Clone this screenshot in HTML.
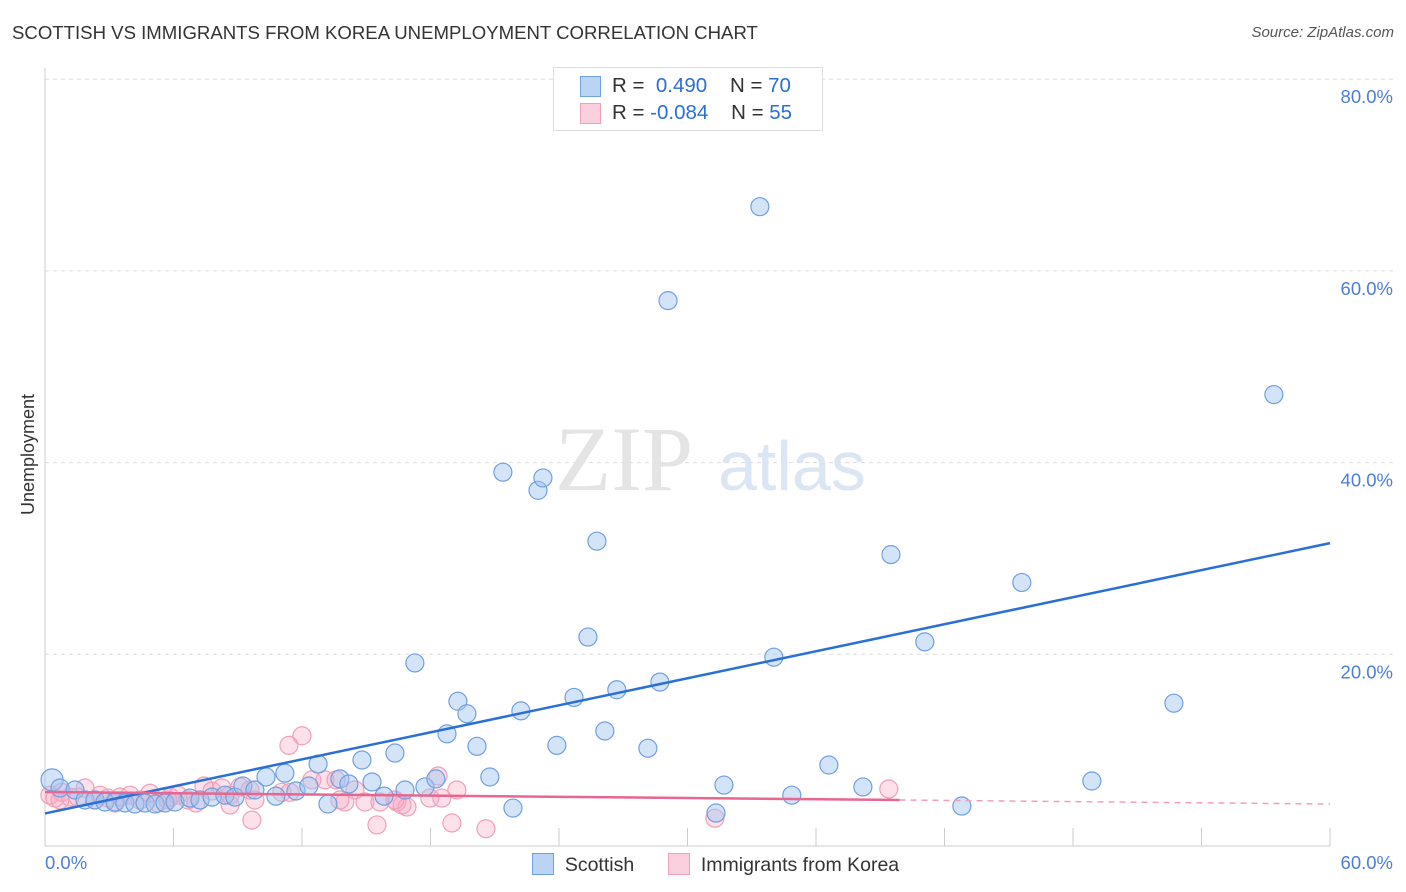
<!DOCTYPE html>
<html><head><meta charset="utf-8"><style>
body{margin:0;background:#fff;font-family:"Liberation Sans",sans-serif;}
#wrap{position:relative;width:1406px;height:892px;overflow:hidden;}
.t{position:absolute;white-space:nowrap;}
</style></head><body>
<div id="wrap">
<div class="t" style="left:12px;top:22px;font-size:18.6px;color:#333;">SCOTTISH VS IMMIGRANTS FROM KOREA UNEMPLOYMENT CORRELATION CHART</div>
<div class="t" style="right:12px;top:24px;font-size:15px;color:#555;font-style:italic;">Source: ZipAtlas.com</div>
<svg id="chart" width="1406" height="892" style="position:absolute;left:0;top:0"></svg>
</div>
<script>
const blueX=[0.33,0.70,1.40,1.87,2.33,2.80,3.27,3.73,4.20,4.67,5.14,5.60,6.07,6.77,7.24,7.80,8.40,8.87,9.24,9.80,10.32,10.78,11.20,11.72,12.32,12.75,13.21,13.77,14.19,14.80,15.27,15.83,16.34,16.81,17.27,17.74,18.25,18.77,19.28,19.70,20.17,20.77,21.38,21.85,22.22,23.02,23.25,23.90,24.70,25.35,25.77,26.14,26.70,28.15,28.71,29.09,31.33,31.70,33.38,34.03,34.87,36.60,38.19,39.50,41.08,42.81,45.61,48.88,52.71,57.38];
const blueY=[6.9,6.05,5.84,4.8,4.8,4.59,4.59,4.49,4.38,4.49,4.38,4.49,4.59,5.0,4.8,5.1,5.3,5.1,6.26,5.84,7.2,5.2,7.6,5.74,6.26,8.55,4.38,7.0,6.47,8.97,6.68,5.2,9.7,5.84,19.1,6.16,7.0,11.7,15.1,13.8,10.4,7.2,39.0,3.96,14.1,37.1,38.4,10.5,15.5,21.8,31.8,12.0,16.3,10.2,17.1,56.9,3.44,6.36,66.7,19.7,5.3,8.45,6.16,30.4,21.3,4.17,27.5,6.78,14.9,47.1];
const pinkX=[0.23,0.47,0.79,1.17,1.54,1.87,2.33,2.94,3.50,3.97,4.43,4.90,5.28,5.84,6.21,6.68,7.05,7.42,7.80,8.26,8.64,9.10,9.66,9.80,11.06,11.39,12.0,12.46,13.07,13.59,14.0,14.47,14.94,15.5,15.64,16.43,16.67,16.9,17.97,18.35,18.53,19.0,19.23,20.59,31.28,39.4,16.34,9.57,5.74,3.27,0.70,2.57,8.64,11.44,13.77];
const pinkY=[5.3,5.0,5.6,5.1,5.1,6.05,4.8,5.0,5.1,5.3,4.8,5.5,4.49,5.1,5.3,4.8,4.49,6.26,5.74,6.05,4.28,6.16,2.7,4.8,5.6,10.5,11.5,6.9,6.9,6.9,4.59,5.84,4.59,2.2,4.59,4.59,4.28,4.07,5.0,7.3,5.0,2.4,5.84,1.8,2.9,5.95,4.8,5.84,4.8,4.49,4.8,5.3,5.3,5.6,4.8];
const blueTrend=[3.4,31.6]; // value at x=0 and x=60
const pinkTrend=[5.63,4.38];
const pinkSolidEnd=39.9;
const yTicks=[20,40,60,80];
const yTickLabels=["20.0%","40.0%","60.0%","80.0%"];
const xTicks=[0,6,12,18,24,30,36,42,48,54,60];

const NS="http://www.w3.org/2000/svg";
const svg=document.getElementById('chart');
const X=v=>45+v*(1285/60);
const Y=v=>846-v*9.585;
function mk(tag,attrs,parent){const e=document.createElementNS(NS,tag);for(const k in attrs)e.setAttribute(k,attrs[k]);(parent||svg).appendChild(e);return e;}

yTicks.forEach((t,i)=>{
 const g=mk('line',{x1:45,x2:1393,y1:Y(t),y2:Y(t),stroke:'#ddd','stroke-dasharray':'4,4'});
 
 
 const tx=mk('text',{x:1393,y:Y(t)+24,'text-anchor':'end','font-size':18.5,fill:'#4a7fd8','font-family':'Liberation Sans, sans-serif'});
 tx.textContent=yTickLabels[i];
 
 
});
const ya=mk('line',{x1:45,x2:45,y1:68,y2:846,stroke:'#ccc'});


const xa=mk('line',{x1:45,x2:1330,y1:846,y2:846,stroke:'#ccc'});


xTicks.forEach(t=>{
 const l=mk('line',{x1:X(t),x2:X(t),y1:828,y2:846,stroke:'#ccc'});
 
 
});
const wm=mk('text',{x:555,y:490,'font-size':92,fill:'#e4e4e4','font-family':'Liberation Serif, serif'});wm.textContent='ZIP';


const wm2=mk('text',{x:718,y:490,'font-size':70,fill:'#dbe6f5','font-family':'Liberation Sans, sans-serif'});wm2.textContent='atlas';



pinkX.forEach((x,i)=>{
 const c=mk('circle',{cx:X(x),cy:Y(pinkY[i]),r:9,fill:'rgba(245,170,195,0.35)',stroke:'#f0a0b8','stroke-width':1.2});
 
 
});
blueX.forEach((x,i)=>{
 const c=mk('circle',{cx:X(x),cy:Y(blueY[i]),r:i===0?11:9,fill:'rgba(160,196,240,0.45)',stroke:'#6fa0e0','stroke-width':1.2});
 
 
});
const bl=mk('line',{x1:X(0),y1:Y(blueTrend[0]),x2:X(60),y2:Y(blueTrend[1]),stroke:'#2a6fd6','stroke-width':2.5});


const pv=x=>pinkTrend[0]+(pinkTrend[1]-pinkTrend[0])*x/60;
const pl=mk('line',{x1:X(0),y1:Y(pv(0)),x2:X(pinkSolidEnd),y2:Y(pv(pinkSolidEnd)),stroke:'#e8668f','stroke-width':2.5});


const pd=mk('line',{x1:X(pinkSolidEnd),y1:Y(pv(pinkSolidEnd)),x2:X(60),y2:Y(pv(60)),stroke:'#f0a0b8','stroke-width':1.5,'stroke-dasharray':'6,5'});


</script>
<div class="t" style="left:-32px;top:444px;font-size:18px;color:#333;transform:rotate(-90deg);">Unemployment</div>
<div class="t" style="left:45px;top:852px;font-size:18.5px;color:#4a7fd8;">0.0%</div>
<div class="t" style="right:13px;top:852px;font-size:18.5px;color:#4a7fd8;">60.0%</div>
<div style="position:absolute;left:553px;top:67px;width:268px;height:62px;border:1px solid #ddd;background:#fff;font-size:20.5px;">
 <div style="position:absolute;left:26px;top:8px;width:19px;height:19px;background:#bcd4f4;border:1px solid #6fa0e0;"></div>
 <div class="t" style="left:58px;top:6px;color:#333;">R = <span style="color:#2a6fd6">&nbsp;0.490</span>&nbsp;&nbsp;&nbsp; N = <span style="color:#2a6fd6">70</span></div>
 <div style="position:absolute;left:26px;top:35px;width:19px;height:19px;background:#fbd0de;border:1px solid #f0a0b8;"></div>
 <div class="t" style="left:58px;top:33px;color:#333;">R = <span style="color:#2a6fd6">-0.084</span>&nbsp;&nbsp;&nbsp; N = <span style="color:#2a6fd6">55</span></div>
</div>
<div style="position:absolute;left:532px;top:853px;font-size:19.5px;color:#333;">
 <span style="display:inline-block;width:20px;height:20px;background:#bcd4f4;border:1px solid #6fa0e0;vertical-align:-4px;"></span>&nbsp; Scottish</div>
<div style="position:absolute;left:668px;top:853px;font-size:19.5px;color:#333;">
 <span style="display:inline-block;width:20px;height:20px;background:#fbd0de;border:1px solid #f0a0b8;vertical-align:-4px;"></span>&nbsp; Immigrants from Korea</div>
</body></html>
